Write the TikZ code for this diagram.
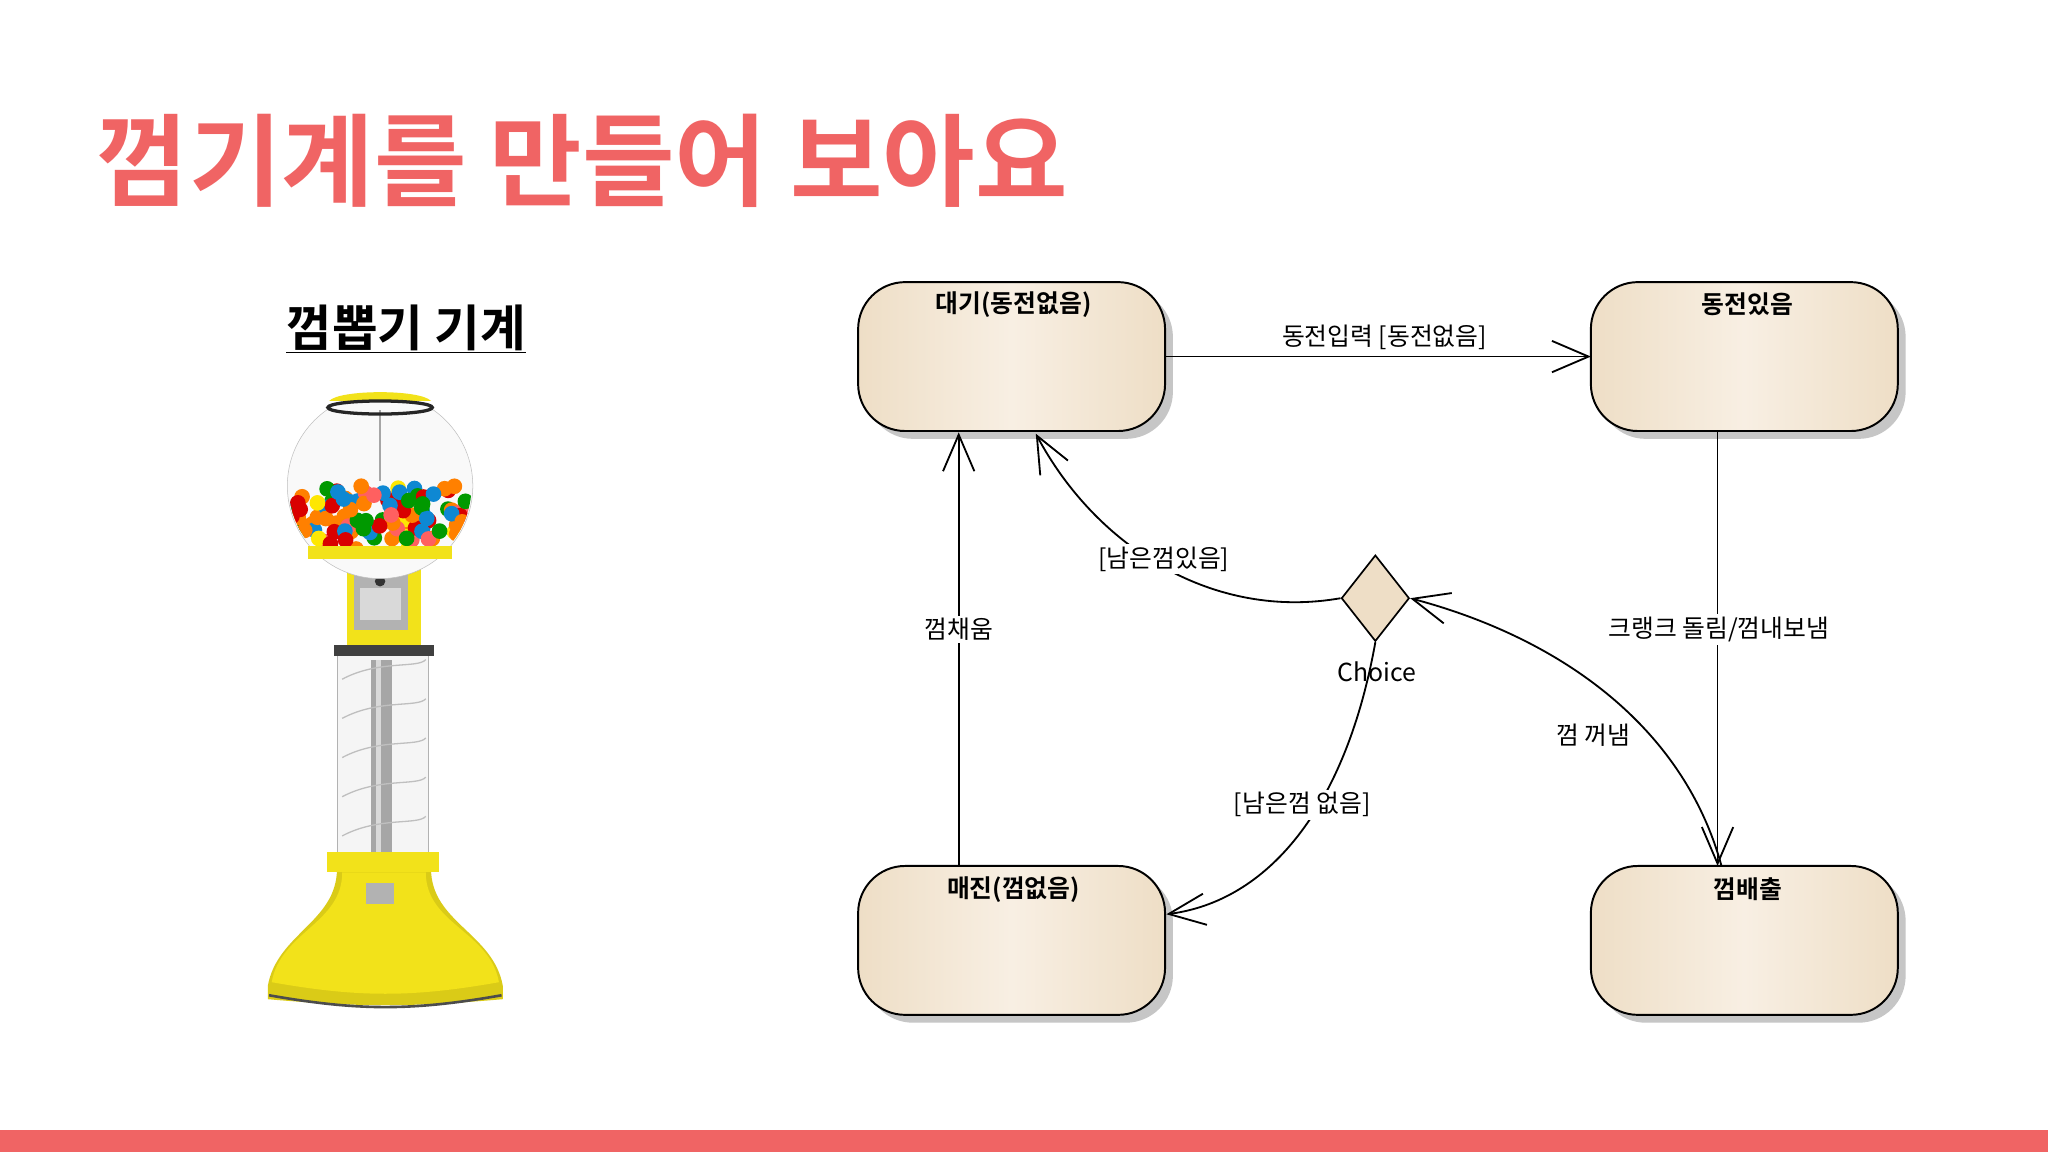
\documentclass[tikz,border=0pt]{standalone}
\usepackage{fontspec}
\setmainfont{Noto Sans CJK KR}
\newfontfamily\krb{Noto Sans CJK KR Bold}
\usetikzlibrary{arrows.meta,shapes.geometric}
\definecolor{pinkred}{HTML}{F06464}
\definecolor{beige}{HTML}{EEDEC6}
\definecolor{beigemid}{HTML}{F8EFE3}
\definecolor{gumyel}{HTML}{F2E21A}
\tikzset{
  statebox/.style={draw=black,line width=1.5pt,rounded corners=36pt,minimum width=235pt,minimum height=114pt,
    left color=beige,right color=beige,middle color=beigemid},
  stlabel/.style={font=\krb\fontsize{19}{22}\selectfont},
  trans/.style={line width=1.4pt,-{Straight Barb[length=28pt,width=24pt,line width=1.4pt]}},
  tlabel/.style={font=\fontsize{19}{22}\selectfont,inner sep=2pt},
}
\begin{document}
\begin{tikzpicture}[x=1pt,y=-1pt]
\useasboundingbox (0,0) rectangle (1568,882);
\fill[white] (0,0) rectangle (1568,882);
\fill[pinkred] (0,865) rectangle (1568,882);
\node[anchor=west,text=pinkred,font=\krb\fontsize{77}{80}\selectfont,inner sep=0] (title) at (74,123) {껌기계를 만들어 보아요};
\node[font=\krb\fontsize{38}{40}\selectfont,inner sep=0] (sub) at (311,252) {\underline{껌뽑기 기계}};

% gumball machine
\begin{scope}
\fill[gumyel!90!black] (205,765) to[out=-5,in=185] (385,765) -- (385,755) to[out=100,in=-90] (330,665) -- (258,665) to[out=-90,in=80] (205,755) -- cycle;
\fill[gumyel] (208,752) to[out=80,in=-90] (262,668) -- (326,668) to[out=-90,in=100] (382,752) to[out=190,in=-10] (208,752);
\draw[black!70,line width=2pt] (206,762) to[out=-10,in=190] (384,762);
\fill[white!92!gray] (258,500) rectangle (328,662);
\draw[gray!60] (258,500) rectangle (328,662);
\fill[gray!70] (284,505) rectangle (300,655);
\fill[gray!30] (288,505) rectangle (292,655);
\foreach \yy in {520,550,580,610,640}{\draw[gray!50,line width=1pt] (262,\yy) .. controls (290,\yy-15) and (320,\yy-8) .. (326,\yy-15);}
\fill[black!75] (256,494) rectangle (332,502);
\fill[gumyel] (266,425) rectangle (322,494);
\fill[gray!60] (271,440) rectangle (312,482);
\fill[gray!30] (276,450) rectangle (307,475);
\fill[black!80] (291,445) circle[radius=4];
\fill[gumyel] (250,652) rectangle (336,668);
\fill[gray!60] (280,676) rectangle (302,692);
\fill[white!95!gray] (291,372) circle[radius=71];
\draw[gray!50] (291,372) circle[radius=71];
\begin{scope}
\clip (291,372) circle[radius=70];
\pgfmathsetseed{11}
\foreach \i in {1,...,110}{
  \pgfmathsetmacro{\gx}{222+rnd*138}
  \pgfmathsetmacro{\gy}{372+rnd*50}
  \pgfmathsetmacro{\c}{int(rnd*6)}
  \ifcase\c \def\gc{red!85!black}\or\def\gc{orange}\or\def\gc{yellow!90!orange}\or\def\gc{cyan!70!blue}\or\def\gc{green!60!black}\else\def\gc{red!50!pink}\fi
  \fill[\gc] (\gx,\gy) circle[radius=6];
}
\end{scope}
\fill[gumyel] (236,418) rectangle (346,428);
\draw[gray!70,line width=1.2pt] (291,314) -- (291,368);
\fill[gumyel] (252,307) .. controls (260,298) and (322,298) .. (330,307) -- cycle;
\draw[black!85,line width=2.5pt] (291,312) ellipse[x radius=40,y radius=5];
\end{scope}

% states
\foreach \cx/\cy in {774.5/273, 1335.5/273, 774.5/720, 1335.5/720}{
  \fill[gray!45,rounded corners=36pt] (\cx-117.5+6,\cy-57+6) rectangle (\cx+117.5+6,\cy+57+6);
}
\node[statebox] (s1) at (774.5,273) {};
\node[statebox] (s2) at (1335.5,273) {};
\node[statebox] (s3) at (774.5,720) {};
\node[statebox] (s4) at (1335.5,720) {};
\node[stlabel] (l1) at (776,233) {대기(동전없음)};
\node[stlabel] (l2) at (1338,233) {동전있음};
\node[stlabel] (l3) at (776,681) {매진(껌없음)};
\node[stlabel] (l4) at (1338,681) {껌배출};

\node[diamond,draw=black,line width=1.3pt,fill=beige,minimum width=52pt,minimum height=66pt,inner sep=0,aspect=0.8] (ch) at (1053,458) {};
\node[tlabel] (chl) at (1054,514) {Choice};

\coordinate (a1) at (892,273);
\coordinate (a2) at (1218,273);
\draw[trans] (a1) -- (a2);
\node[tlabel] at (1060,258) {동전입력 [동전없음]};

\coordinate (b1) at (1315,330);
\coordinate (b2) at (1315,663);
\draw[trans] (b1) -- (b2);
\node[tlabel,fill=white] at (1316,482) {크랭크 돌림/껌내보냄};

\coordinate (c1) at (734,663);
\coordinate (c2) at (734,331);
\draw[trans] (c1) -- (c2);
\node[tlabel,fill=white] at (734,482) {껌채움};

\coordinate (d1) at (793,332);
\draw[trans] (ch.west) .. controls (930,475) and (840,420) .. (d1);
\node[tlabel,fill=white] at (891,428) {[남은껌있음]};

\coordinate (e1) at (893,700);
\draw[trans] (ch.south) .. controls (1030,620) and (970,690) .. (e1);
\node[tlabel,fill=white] at (997,616) {[남은껌 없음]};

\coordinate (f1) at (1318,663);
\draw[trans] (f1) .. controls (1290,560) and (1200,490) .. (ch.east);
\node[tlabel,fill=white] at (1220,563) {껌 꺼냄};
\end{tikzpicture}
\end{document}
